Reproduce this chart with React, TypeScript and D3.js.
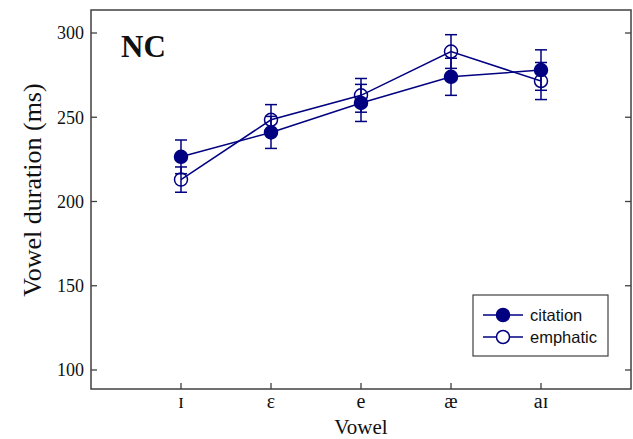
import React from "react";
import * as d3 from "d3";

const vowels = ["ɪ", "ɛ", "e", "æ", "aɪ"];
const citation = [226.5, 241, 258.5, 274, 278];
const citationErr = [10, 9.5, 11, 11, 12];
const emphatic = [213, 248.5, 263, 289, 271.5];
const emphaticErr = [7.5, 9, 10, 10, 11];
const yTicks = [100, 150, 200, 250, 300];

const W = 633, H = 439;
const L = 91, R = 631, T = 10, B = 389;
const NAVY = "#000080";
const FRAME = "#404040";
const SERIF = "'Liberation Serif', 'Times New Roman', serif";
const SANS = "'Liberation Sans', Arial, sans-serif";

export default function App() {
  const x = d3.scaleLinear().domain([0, 6]).range([L, R]);
  const y = d3.scaleLinear().domain([100, 300]).range([370, 33]);
  const line = d3.line<number>().x((_, i) => x(i + 1)).y((d) => y(d));

  const series = [
    { name: "citation", vals: citation, err: citationErr, filled: true },
    { name: "emphatic", vals: emphatic, err: emphaticErr, filled: false },
  ];

  return (
    <svg width={W} height={H} style={{ position: "absolute", left: 0, top: 0 }}>
      <rect x={0} y={0} width={W} height={H} fill="#fff" />
      {/* frame */}
      <rect x={L} y={T} width={R - L} height={B - T} fill="none" stroke={FRAME} strokeWidth={1.5} />
      {/* y ticks */}
      {yTicks.map((t) => (
        <g key={t}>
          <line x1={L} x2={L + 6} y1={y(t)} y2={y(t)} stroke={FRAME} strokeWidth={1.3} />
          <line x1={R - 6} x2={R} y1={y(t)} y2={y(t)} stroke={FRAME} strokeWidth={1.3} />
          <text x={L - 7} y={y(t)} dy="0.35em" textAnchor="end" fontFamily={SERIF} fontSize={18} fill="#111">
            {t}
          </text>
        </g>
      ))}
      {/* x ticks */}
      {vowels.map((v, i) => (
        <g key={v}>
          <line x1={x(i + 1)} x2={x(i + 1)} y1={B} y2={B - 6} stroke={FRAME} strokeWidth={1.3} />
          <text x={x(i + 1)} y={408} textAnchor="middle" fontFamily={SERIF} fontSize={20} fill="#111">
            {v}
          </text>
        </g>
      ))}
      {/* axis titles */}
      <text x={361} y={434} textAnchor="middle" fontFamily={SERIF} fontSize={21} fill="#111">
        Vowel
      </text>
      <text
        transform={`translate(41, 190) rotate(-90)`}
        textAnchor="middle"
        fontFamily={SERIF}
        fontSize={26}
        fill="#111"
      >
        Vowel duration (ms)
      </text>
      <text x={121} y={57} fontFamily={SERIF} fontWeight="bold" fontSize={31} fill="#111">
        NC
      </text>
      {/* series */}
      {series.map((s) => (
        <g key={s.name}>
          <path d={line(s.vals) || ""} fill="none" stroke={NAVY} strokeWidth={1.5} />
          {s.vals.map((v, i) => {
            const cx = x(i + 1);
            const lo = y(v - s.err[i]);
            const hi = y(v + s.err[i]);
            return (
              <g key={i}>
                <line x1={cx} x2={cx} y1={lo} y2={hi} stroke={NAVY} strokeWidth={1.5} />
                <line x1={cx - 6} x2={cx + 6} y1={lo} y2={lo} stroke={NAVY} strokeWidth={1.5} />
                <line x1={cx - 6} x2={cx + 6} y1={hi} y2={hi} stroke={NAVY} strokeWidth={1.5} />
              </g>
            );
          })}
          {s.vals.map((v, i) => (
            <circle
              key={"c" + i}
              cx={x(i + 1)}
              cy={y(v)}
              r={6.5}
              fill={s.filled ? NAVY : "none"}
              stroke={NAVY}
              strokeWidth={1.5}
            />
          ))}
        </g>
      ))}
      {/* legend */}
      <rect x={473} y={295} width={135} height={61} fill="#fff" stroke={FRAME} strokeWidth={1.2} />
      {series.map((s, i) => {
        const ly = 315 + i * 22;
        return (
          <g key={"lg" + s.name}>
            <line x1={483} x2={523} y1={ly} y2={ly} stroke={NAVY} strokeWidth={1.5} />
            <circle cx={503} cy={ly} r={6.5} fill={s.filled ? NAVY : "#fff"} stroke={NAVY} strokeWidth={1.5} />
            <text x={530} y={ly} dy="0.35em" fontFamily={SANS} fontSize={16.5} fill="#111">
              {s.name}
            </text>
          </g>
        );
      })}
    </svg>
  );
}
